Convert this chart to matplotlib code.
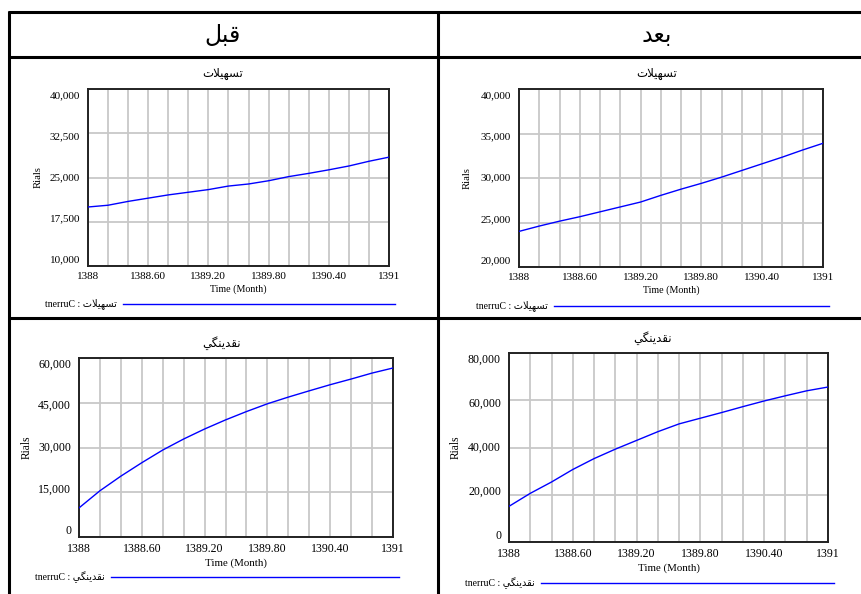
import matplotlib.pyplot as plt

# =========================
# DATA
# =========================
years = [1388.0, 1388.2, 1388.4, 1388.6, 1388.8, 1389.0, 1389.2, 1389.4,
         1389.6, 1389.8, 1390.0, 1390.2, 1390.4, 1390.6, 1390.8, 1391.0]

xticks = [1388, 1388.6, 1389.2, 1389.8, 1390.4, 1391]
xtick_labels = ["1388", "1388.60", "1389.20", "1389.80", "1390.40", "1391"]

# loans (tashilat), before / after
loans_before = [20000, 20300, 20950, 21500, 22050, 22500, 22950, 23550,
                23900, 24450, 25150, 25700, 26300, 26950, 27750, 28450]
loans_after = [24000, 24600, 25150, 25650, 26200, 26750, 27300, 28050,
               28750, 29400, 30100, 30850, 31600, 32350, 33150, 33900]

# liquidity (naghdinegi), before / after
liquidity_before = [9750, 15500, 20400, 24900, 29150, 32850, 36200, 39250,
                    42050, 44650, 46900, 49000, 51050, 52950, 54950, 56650]
liquidity_after = [15100, 20600, 25400, 30700, 35300, 39300, 43000, 46700,
                   50000, 52400, 54800, 57300, 59700, 61900, 64000, 65600]

# Persian text in presentation forms, visual (left-to-right) order
BEFORE = "\uFEDE\uFE92\uFED7"                                  # qabl
AFTER = "\uFEAA\uFECC\uFE91"                                   # ba'd
LOANS = "\uFE95\uFEFC\uFEF4\uFEEC\uFEB4\uFE97"                 # tashilat
LIQUIDITY = "\uFEF2\uFB95\uFEE8\uFEF3\uFEAA\uFED8\uFEE7"       # naghdinegi

W, H = 861, 594
ARABIC = ["DejaVu Sans"]
SERIF = ["Liberation Serif", "DejaVu Serif"]

fig = plt.figure(figsize=(W / 100, H / 100), dpi=100)

# overlay in pixel coordinates for the table frame and captions
ov = fig.add_axes([0, 0, 1, 1])
ov.set_xlim(0, W)
ov.set_ylim(H, 0)
ov.axis("off")

# table frame
for y in (11.5, 57, 318):
    ov.plot([8, W + 5], [y, y], color="black", lw=2.2, solid_capstyle="butt")
for x in (8.5, 438):
    ov.plot([x, x], [11, H + 5], color="black", lw=2.2, solid_capstyle="butt")

ov.text(223, 35, BEFORE, family=ARABIC, fontsize=17, ha="center", va="center")
ov.text(657, 35, AFTER, family=ARABIC, fontsize=17, ha="center", va="center")


def panel(box, values, ylim, ystep, title, title_xy, ylabel_x, legend, fs):
    x0, y0, x1, y1 = box
    ax = fig.add_axes([x0 / W, 1 - y1 / H, (x1 - x0) / W, (y1 - y0) / H])
    ax.plot(years, values, color="#0000ff", lw=1.0, zorder=3)
    ax.set_xlim(1388, 1391)
    ax.set_ylim(*ylim)

    ax.set_xticks([1388 + 0.2 * i for i in range(16)], minor=True)
    ax.set_xticks(xticks)
    ax.set_xticklabels(xtick_labels)
    yvals = list(range(ylim[0], ylim[1] + 1, ystep))
    ax.set_yticks(yvals)
    ax.set_yticklabels([])
    ax.grid(True, which="both", color="#c8c8c8", lw=1.3)
    ax.set_axisbelow(True)
    ax.tick_params(which="both", length=0)
    ax.tick_params(axis="x", pad=4)
    for lab in ax.get_xticklabels():
        lab.set_family(SERIF)
        lab.set_fontsize(fs)
    for s in ax.spines.values():
        s.set_color("#222222")
        s.set_linewidth(1.4)

    # value labels sit slightly inside the end gridlines
    span = ylim[1] - ylim[0]
    for v in yvals:
        f = 0.034 + 0.93 * (v - ylim[0]) / span
        ax.text(-8 / (x1 - x0), f, f"{v:,}", transform=ax.transAxes,
                family=SERIF, fontsize=fs, ha="right", va="center")

    ax.set_xlabel("Time (Month)", family=SERIF, fontsize=fs - 0.8, labelpad=2.5)
    ax.set_ylabel("Rials", family=SERIF, fontsize=fs - 0.3)
    ax.yaxis.label.set_va("center")
    ax.yaxis.set_label_coords((ylabel_x - x0) / (x1 - x0), 0.5)

    ov.text(*title_xy, title, family=ARABIC, fontsize=8.5, ha="center", va="center")

    lx, ly, lx1 = legend
    ov.text(lx - 6, ly, "tnerruC : " + title, family=["Liberation Serif", "DejaVu Sans"],
            fontsize=7, ha="right", va="center")
    ov.plot([lx, lx1], [ly, ly], color="#0000ff", lw=1.0)
    return ax


panel((88, 89, 389, 266), loans_before, (10000, 40000), 7500, LOANS,
      (223, 74), 38, (123, 304, 395), 8.0)
panel((519, 89, 823, 267), loans_after, (20000, 40000), 5000, LOANS,
      (657, 73), 467, (554, 306, 829), 8.0)
panel((79, 358, 393, 537), liquidity_before, (0, 60000), 15000, LIQUIDITY,
      (222, 343), 27, (111, 577, 399), 8.6)
panel((509, 353, 828, 542), liquidity_after, (0, 80000), 20000, LIQUIDITY,
      (653, 338), 456, (541, 583, 834), 8.6)

fig.savefig("out.png", dpi=100)
